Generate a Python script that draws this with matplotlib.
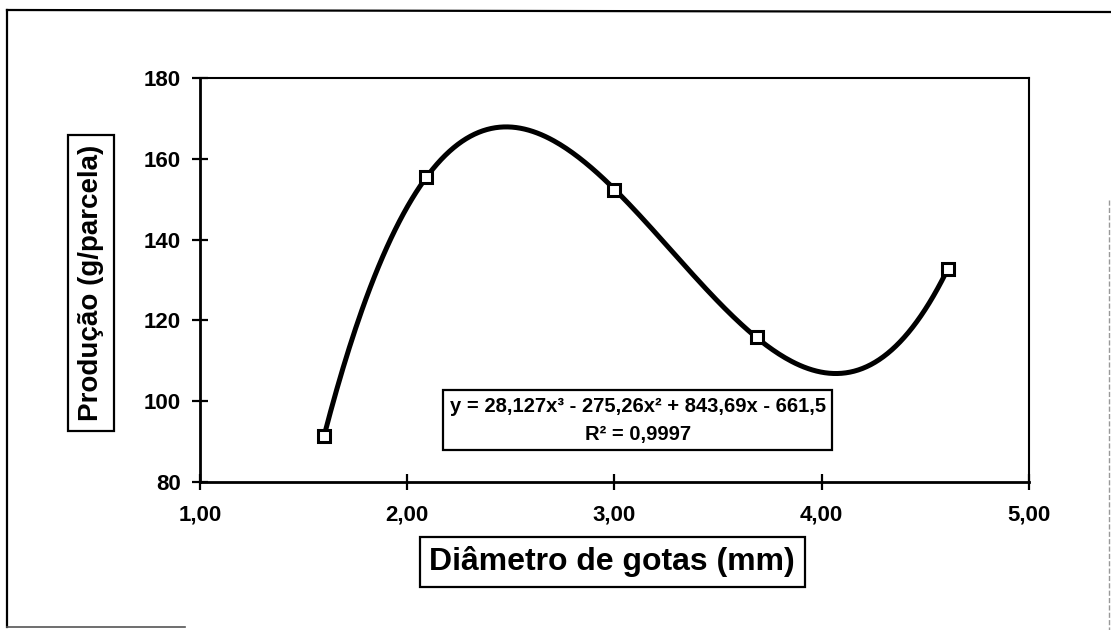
import numpy as np
import matplotlib
matplotlib.use("Agg")
import matplotlib.pyplot as plt
from matplotlib.lines import Line2D

# dados
diametro = np.array([1.60, 2.09, 3.00, 3.69, 4.61])
producao = np.array([91.5, 155.5, 152.2, 115.8, 132.8])

x_ticks = [1.0, 2.0, 3.0, 4.0, 5.0]
x_labels = ['1,00', '2,00', '3,00', '4,00', '5,00']
y_ticks = [80, 100, 120, 140, 160, 180]

eq_text = 'y = 28,127x³ - 275,26x² + 843,69x - 661,5\nR² = 0,9997'

plt.rcParams['font.family'] = ['Liberation Sans', 'DejaVu Sans']
plt.rcParams['font.weight'] = 'bold'

fig = plt.figure(figsize=(11.11, 6.30), dpi=100)
ax = fig.add_axes([0.180, 0.235, 0.746, 0.641])

# linha de tendencia polinomial (ordem 3), como no Excel
coef = np.polyfit(diametro, producao, 3)
xs = np.linspace(diametro.min(), diametro.max(), 300)
ax.plot(xs, np.polyval(coef, xs), color='black', lw=3.6, solid_capstyle='round')
ax.plot(diametro, producao, ls='none', marker='s', ms=9, mfc='white',
        mec='black', mew=2.2)

ax.set_xlim(1, 5)
ax.set_ylim(80, 180)
ax.set_xticks(x_ticks)
ax.set_xticklabels(x_labels)
ax.set_yticks(y_ticks)
ax.tick_params(axis='both', direction='inout', length=11, width=1.6,
               labelsize=16, colors='black')
ax.tick_params(axis='y', pad=8)
ax.tick_params(axis='x', pad=11)
for s in ['left', 'bottom']:
    ax.spines[s].set_linewidth(2.0)
for s in ['top', 'right']:
    ax.spines[s].set_linewidth(1.5)

ax.text(0.528, 0.153, eq_text, transform=ax.transAxes, ha='center', va='center',
        fontsize=14.5, fontweight='bold', linespacing=1.6,
        bbox=dict(boxstyle='square,pad=0.32', fc='white', ec='black', lw=1.6))

fig.text(0.551, 0.108, 'Diâmetro de gotas (mm)', ha='center', va='center',
         fontsize=23, fontweight='bold',
         bbox=dict(boxstyle='square,pad=0.3', fc='white', ec='black', lw=1.6))
fig.text(0.082, 0.551, 'Produção (g/parcela)', ha='center', va='center',
         rotation=90, fontsize=20, fontweight='bold',
         bbox=dict(boxstyle='square,pad=0.36', fc='white', ec='black', lw=1.6))

# moldura externa (digitalizada)
W, H = 1111.0, 630.0
fig.add_artist(Line2D([7 / W, 7 / W], [1 - 10 / H, 1 - 627 / H], color='black', lw=1.6))
fig.add_artist(Line2D([7 / W, 1.0], [1 - 10 / H, 1 - 12 / H], color='black', lw=1.6))
fig.add_artist(Line2D([7 / W, 185 / W], [1 - 627 / H, 1 - 627 / H], color='#555555', lw=1.2))
fig.add_artist(Line2D([1109 / W, 1109 / W], [1 - 200 / H, 0.0], color='#999999', lw=1.0, ls='--'))

fig.savefig('out.png', dpi=100)
